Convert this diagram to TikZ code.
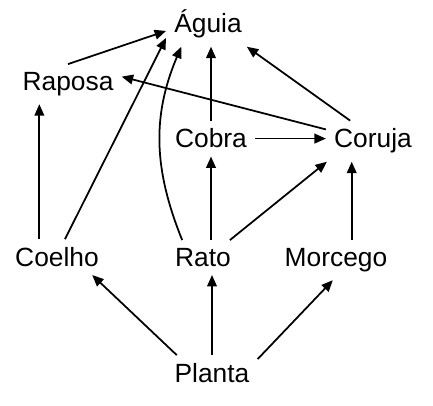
\documentclass[tikz,border=0pt]{standalone}
\usepackage{fontspec}
\setmainfont{Liberation Sans}
\usetikzlibrary{arrows.meta,calc}
\usetikzlibrary{positioning}

\begin{document}
\begin{tikzpicture}[
  animal/.style={inner sep=4.5pt, anchor=base, font=\fontsize{15}{18}\selectfont},
  feeds/.style={-{Triangle[length=6.5pt,width=5.5pt]}, line width=1pt},
  ]
  \useasboundingbox (0,0) rectangle (8.66,-8.12);

  % Top level
  \node[animal] (aguia) at (4.16,-0.66) {Águia};
  \node[animal] (raposa) at (1.36,-1.81) {Raposa};

  % Middle level
  \node[animal] (cobra) at (4.22,-2.96) {Cobra};
  \node[animal] (coruja) at (7.46,-2.96) {Coruja};

  % Lower level
  \node[animal] (coelho) at (1.14,-5.33) {Coelho};
  \node[animal] (rato) at (4.06,-5.33) {Rato};
  \node[animal] (morcego) at (6.72,-5.33) {Morcego};
  \node[animal] (planta) at (4.24,-7.65) {Planta};

  % Connections
  \draw[feeds] (raposa.north) -- (aguia.189);
  \draw[feeds] (coelho.66) -- (aguia.198);
  \draw[feeds] (rato.140) to[out=112, in=-113] (aguia.220);
  \draw[feeds] (cobra.north) -- (cobra.north |- aguia.south);
  \draw[feeds] (coruja.138) -- (aguia.-30);
  \draw[feeds] (coruja.166) -- (raposa.8);
  \draw[feeds] (cobra.east) -- (cobra.east -| coruja.west);
  \draw[feeds] (cobra.south |- rato.north) -- (cobra.south);
  \draw[feeds] (rato.33) -- (coruja.204);
  \draw[feeds] (coruja.-136 |- morcego.north) -- (coruja.-136);
  \draw[feeds] (raposa.-145 |- coelho.north) -- (raposa.-145);
  \draw[feeds] (planta.153) -- (coelho.-27);
  \draw[feeds] (planta.north) -- (planta.north |- rato.south);
  \draw[feeds] (planta.17) -- (morcego.-99);

\end{tikzpicture}
\end{document}
